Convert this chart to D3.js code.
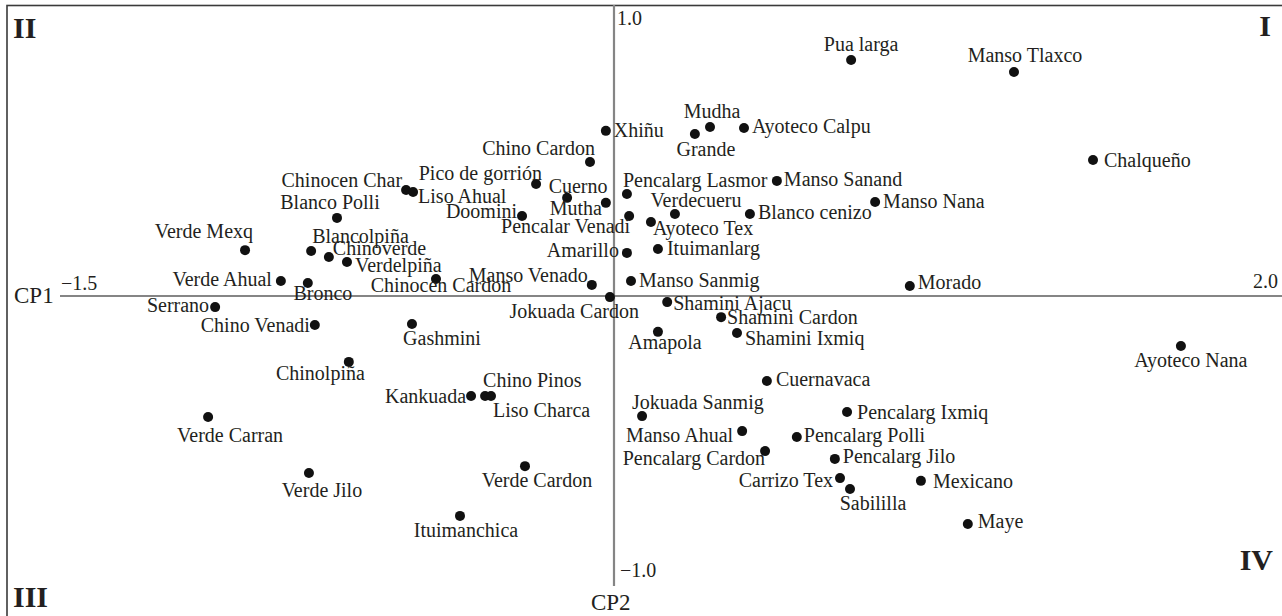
<!doctype html>
<html>
<head>
<meta charset="utf-8">
<script src="https://d3js.org/d3.v7.min.js"></script>
<style>
  body { margin: 0; background: #fff; }
  svg text { font-family: 'Liberation Serif', 'Times New Roman', Times, 'DejaVu Serif', serif; fill: #231f20; }
</style>
</head>
<body>
<div id="chart"></div>
<script>
// names and coordinates on the first two components
var names = ["Pua larga", "Manso Tlaxco", "Chalqueño", "Xhiñu", "Mudha", "Grande", "Ayoteco Calpu",
  "Chino Cardon", "Pico de gorrión", "Chinocen Char", "Liso Ahual", "Cuerno", "Pencalarg Lasmor",
  "Manso Sanand", "Manso Nana", "Blanco cenizo", "Verdecueru", "Ayoteco Tex", "Mutha", "Doomini",
  "Pencalar Venadi", "Blanco Polli", "Verde Mexq", "Blancolpiña", "Chinoverde", "Verdelpiña",
  "Chinocen Cardon", "Verde Ahual", "Bronco", "Serrano", "Chino Venadi", "Gashmini", "Chinolpiña",
  "Manso Venado", "Jokuada Cardon", "Amarillo", "Ituimanlarg", "Manso Sanmig", "Morado",
  "Shamini Ajacu", "Shamini Cardon", "Shamini Ixmiq", "Amapola", "Cuernavaca", "Ayoteco Nana",
  "Verde Carran", "Verde Jilo", "Kankuada", "Chino Pinos", "Liso Charca", "Verde Cardon",
  "Ituimanchica", "Jokuada Sanmig", "Manso Ahual", "Pencalarg Cardon", "Pencalarg Ixmiq",
  "Pencalarg Polli", "Pencalarg Jilo", "Carrizo Tex", "Sabililla", "Mexicano", "Maye"];

var cp1 = [0.642, 1.083, 1.297, -0.022, 0.260, 0.219, 0.352,
  -0.065, -0.211, -0.563, -0.544, -0.127, 0.035,
  0.441, 0.707, 0.368, 0.165, 0.100, -0.022, -0.249,
  0.041, -0.750, -0.999, -0.820, -0.772, -0.723,
  -0.482, -0.902, -0.829, -1.080, -0.810, -0.547, -0.718,
  -0.060, -0.011, 0.035, 0.119, 0.046, 0.801,
  0.144, 0.290, 0.333, 0.119, 0.414, 1.535,
  -1.099, -0.826, -0.387, -0.349, -0.333, -0.241,
  -0.417, 0.076, 0.347, 0.409, 0.631,
  0.495, 0.598, 0.612, 0.639, 0.831, 0.958];

var cp2 = [0.849, 0.806, 0.489, 0.594, 0.608, 0.583, 0.604,
  0.482, 0.403, 0.381, 0.374, 0.353, 0.367,
  0.414, 0.338, 0.295, 0.295, 0.266, 0.335, 0.288,
  0.288, 0.281, 0.165, 0.162, 0.140, 0.122,
  0.061, 0.054, 0.047, -0.040, -0.104, -0.101, -0.237,
  0.040, -0.004, 0.155, 0.169, 0.054, 0.036,
  -0.022, -0.076, -0.133, -0.129, -0.306, -0.180,
  -0.435, -0.637, -0.360, -0.360, -0.360, -0.612,
  -0.791, -0.432, -0.486, -0.558, -0.417,
  -0.507, -0.586, -0.655, -0.694, -0.665, -0.820];

var quadrants = ["I", "II", "III", "IV"];

// label placement: anchor, dx, dy from the dot
var labelPos = [["middle", 10, -9], ["middle", 11, -10], ["start", 11, 7], ["start", 8, 6], ["middle", 2, -9], ["middle", 11, 22], ["start", 8, 5],
  ["end", 5, -7], ["end", 6, -4], ["end", -4, -3], ["start", 5, 11], ["middle", 11, -5], ["start", -4, -7],
  ["start", 7, 5], ["start", 8, 6], ["start", 8, 5], ["middle", 21, -7], ["start", 2, 13], ["end", -4, 12], ["end", -5, 2],
  ["end", 1, 17], ["middle", -7, -9], ["end", 8, -12], ["start", 1, -8], ["start", 4, -2], ["start", 8, 10],
  ["middle", 5, 13], ["end", -9, 5], ["middle", 15, 17], ["end", -6, 5], ["end", -5, 7], ["middle", 30, 21], ["end", 16, 18],
  ["end", -4, -3], ["end", 29, 21], ["end", -8, 4], ["start", 9, 6], ["start", 8, 6], ["start", 8, 3],
  ["start", 6, 8], ["start", 6, 7], ["start", 8, 12], ["middle", 7, 17], ["start", 9, 5], ["middle", 10, 21],
  ["middle", 22, 25], ["middle", 13, 24], ["end", -5, 7], ["start", -2, -9], ["start", 2, 21], ["middle", 12, 21],
  ["middle", 6, 21], ["start", -10, -7], ["end", -9, 11], ["end", 0, 14], ["start", 10, 7],
  ["start", 7, 5], ["start", 8, 4], ["end", -7, 9], ["middle", 23, 21], ["start", 12, 7], ["start", 10, 4]];

var W = 1282, H = 616;
var serif = "'Liberation Serif', 'Times New Roman', 'DejaVu Serif', serif";

var x = d3.scaleLinear().domain([-1.5, 2.0]).range([60, 60 + 3.5 * 369.33]);
var y = d3.scaleLinear().domain([-1, 1]).range([574, 18]);

var svg = d3.select("#chart").append("svg")
    .attr("width", W)
    .attr("height", H)
    .attr("font-family", serif);

// frame (runs off the right and bottom)
svg.append("rect")
    .attr("x", 7).attr("y", 5.5)
    .attr("width", W + 20).attr("height", H + 20)
    .attr("fill", "none")
    .attr("stroke", "#3a3a3a")
    .attr("stroke-width", 1.6);

// axes
svg.append("line")
    .attr("x1", x(-1.5)).attr("x2", W)
    .attr("y1", y(0)).attr("y2", y(0))
    .attr("stroke", "#858585").attr("stroke-width", 2.2);
svg.append("line")
    .attr("x1", x(0)).attr("x2", x(0))
    .attr("y1", 5).attr("y2", y(-1) + 12)
    .attr("stroke", "#858585").attr("stroke-width", 2.2);

var tick = svg.append("g").attr("font-size", 20);
tick.append("text").attr("x", x(0) + 3).attr("y", y(1) + 7).text("1.0");
tick.append("text").attr("x", x(0) + 6).attr("y", y(-1) + 3).text("\u22121.0");
tick.append("text").attr("x", x(-1.5) + 1).attr("y", y(0) - 6).text("\u22121.5");
tick.append("text").attr("x", W - 4).attr("y", y(0) - 8).attr("text-anchor", "end").text("2.0");

svg.append("text").attr("x", 14).attr("y", y(0) + 7).attr("font-size", 23).text("CP1");
svg.append("text").attr("x", x(0) - 23).attr("y", 610).attr("font-size", 23).text("CP2");

// quadrant numerals
var qpos = {"I": [1271, 36, "end"], "II": [13, 38, "start"], "III": [13, 607, "start"], "IV": [1273, 570, "end"]};
svg.append("g").selectAll("text")
    .data(quadrants)
    .enter().append("text")
    .attr("x", function (d) { return qpos[d][0]; })
    .attr("y", function (d) { return qpos[d][1]; })
    .attr("text-anchor", function (d) { return qpos[d][2]; })
    .attr("font-size", 30)
    .attr("font-weight", "bold")
    .text(function (d) { return d; });

var pts = names.map(function (n, i) {
    return {name: n, cp1: cp1[i], cp2: cp2[i], lp: labelPos[i]};
});

svg.append("g").selectAll("circle")
    .data(pts)
    .enter().append("circle")
    .attr("cx", function (d) { return x(d.cp1); })
    .attr("cy", function (d) { return y(d.cp2); })
    .attr("r", 5)
    .attr("fill", "#111");

svg.append("g").attr("font-size", 20).selectAll("text")
    .data(pts)
    .enter().append("text")
    .attr("x", function (d) { return x(d.cp1) + d.lp[1]; })
    .attr("y", function (d) { return y(d.cp2) + d.lp[2]; })
    .attr("text-anchor", function (d) { return d.lp[0]; })
    .text(function (d) { return d.name; });
</script>
</body>
</html>
